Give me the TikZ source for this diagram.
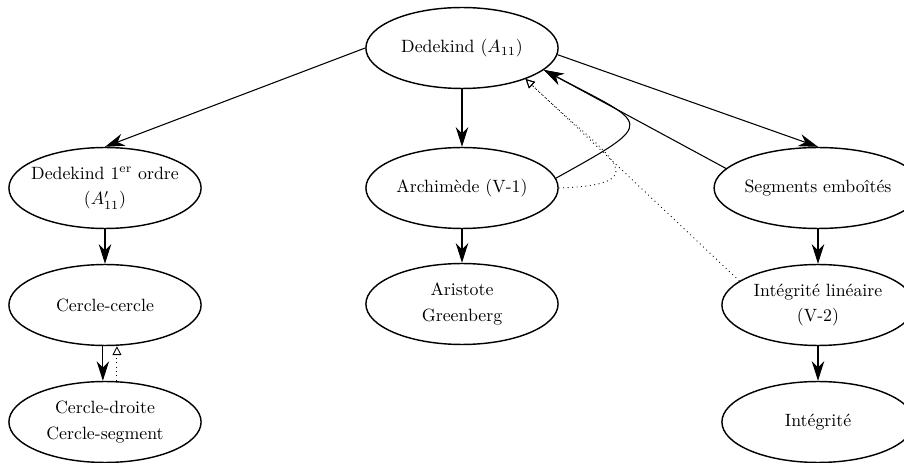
\documentclass[tikz,border=0pt]{standalone}
\usepackage{fontspec}
\usetikzlibrary{shapes.geometric,arrows.meta}
\begin{document}
\begin{tikzpicture}[x=0.562pt,y=-0.562pt,
  ell/.style={ellipse,draw,line width=0.8pt,minimum width=108pt,minimum height=45.5pt,inner sep=0pt,align=center},
  arr/.style={-{Stealth[length=11pt,width=7pt,inset=3.5pt]},line width=0.6pt},
  darr/.style={-{Triangle[open,length=5pt,width=5pt,line width=0.5pt]},dotted,line width=0.5pt}]
\useasboundingbox (0,0) rectangle (904,463);
\node[ell] (ded) at (462,48) {Dedekind ($A_{11}$)};
\node[ell,inner xsep=-4pt] (d1) at (105,188) {Dedekind 1\textsuperscript{er} ordre\\[2.5pt]($A'_{11}$)};
\node[ell] (cc) at (105,305) {Cercle-cercle};
\node[ell] (cd) at (105,422) {Cercle-droite\\[2.5pt]Cercle-segment};
\node[ell] (arch) at (462,188) {Archimède (V-1)};
\node[ell] (aris) at (462,304) {Aristote\\[2.5pt]Greenberg};
\node[ell] (seg) at (818,188) {Segments emboîtés};
\node[ell] (il) at (818,305) {Intégrité linéaire\\[2.5pt](V-2)};
\node[ell] (int) at (818,422) {Intégrité};

\draw[arr] (ded.west) -- (d1.north);
\draw[arr] (ded.south) -- (arch.north);
\draw[arr] (ded.-4) -- (seg.north);
\draw[arr] (d1.south) -- (cc.north);
\draw[arr] ([xshift=-1.2pt]cc.south) -- ([xshift=-1.2pt]cd.north);
\draw[darr] ([xshift=6.7pt]cd.north) -- ([xshift=6.7pt]cc.south);
\draw[arr] (arch.south) -- (aris.north);
\draw[arr] (seg.south) -- (il.north);
\draw[arr] (il.south) -- (int.north);
\draw[arr] (seg.168) -- (ded.-15);
\draw[arr] (arch.6) to[out=29,in=-28,looseness=2.8] (ded.-15);
\draw[darr] (il.163) -- (ded.-26);
\draw[darr] (arch.east) to[out=2,in=-44,looseness=2.4] (ded.-26);
\end{tikzpicture}
\end{document}
